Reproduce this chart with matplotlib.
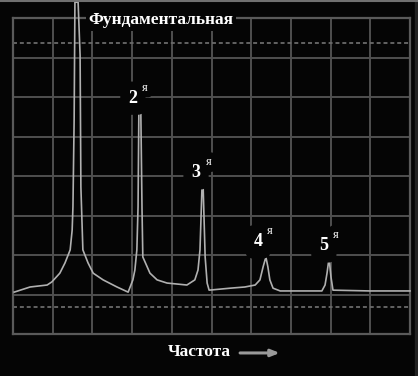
import matplotlib
matplotlib.use('Agg')
from matplotlib import pyplot as plt
from matplotlib.lines import Line2D
from matplotlib.patches import Rectangle

# спектр: частота (деления сетки) и амплитуда (деления сетки)
freq = [0.03, 0.43, 0.86, 0.98, 1.18, 1.31, 1.44, 1.49, 1.51, 1.54, 1.56, 1.61,
        1.64, 1.69, 1.71, 1.76, 1.89, 2.02, 2.27, 2.62, 2.90,
        3.02, 3.07, 3.12, 3.15, 3.17, 3.22, 3.25, 3.27, 3.38, 3.45, 3.63, 3.88,
        4.38, 4.58, 4.66, 4.71, 4.76, 4.79, 4.84, 4.89, 4.94, 5.47,
        5.84, 6.10, 6.22, 6.30, 6.37, 6.42, 6.47, 6.55, 6.73,
        7.78, 7.86, 7.91, 7.96, 8.01, 8.06, 8.99, 10.0]
ampl = [1.06, 1.19, 1.24, 1.32, 1.54, 1.80, 2.13, 2.63, 3.22, 5.42, 8.40, 8.40,
        8.40, 7.06, 3.72, 2.13, 1.80, 1.54, 1.37, 1.19, 1.06,
        1.37, 1.62, 2.13, 3.22, 5.59, 5.59, 3.14, 1.95, 1.70, 1.54, 1.37, 1.29,
        1.24, 1.37, 1.62, 2.13, 3.70, 3.70, 1.95, 1.29, 1.11, 1.16,
        1.19, 1.24, 1.37, 1.70, 1.95, 1.70, 1.37, 1.16, 1.09,
        1.09, 1.24, 1.54, 1.92, 1.44, 1.11, 1.09, 1.09]

# подписи гармоник
harm_text = ['2', '3', '4', '5']
harm_x = [3.02, 4.61, 6.17, 7.83]
harm_y = [5.97, 4.08, 2.33, 2.23]
dashed_levels = [7.37, 0.68]

bg = '#050505'
fig = plt.figure(figsize=(4.18, 3.76), dpi=100, facecolor=bg)
ax = fig.add_axes([13 / 418, 42 / 376, 397 / 418, 316 / 376])
ax.set_facecolor(bg)
ax.set_xlim(0, 10)
ax.set_ylim(0, 8)
ax.set_xticks(range(11))
ax.set_yticks(range(9))
ax.tick_params(length=0, labelbottom=False, labelleft=False)
ax.grid(True, color='#505050', linewidth=1.4)
for s in ax.spines.values():
    s.set_color('#5a5a5a')
    s.set_linewidth(1.6)

for lev in dashed_levels:
    ax.axhline(lev, color='#6a6a6a', linewidth=1.3, linestyle=(0, (2.2, 1.6)))

ax.plot(freq, ampl, color='#b0b0b0', linewidth=1.2, clip_on=False, zorder=3)

font = 'Liberation Serif'
ax.text(3.73, 7.95, 'Фундаментальная', color='white', fontsize=12.5,
        fontweight='bold', family=font, ha='center', va='center',
        bbox=dict(facecolor=bg, edgecolor='none', pad=2), zorder=5)

for t, hx, hy in zip(harm_text, harm_x, harm_y):
    ax.text(hx, hy, t, color='white', fontsize=13, fontweight='bold',
            family=font, ha='center', va='center', zorder=5,
            bbox=dict(boxstyle='round,pad=0.45', facecolor=bg, edgecolor='none'))
    ax.text(hx + 0.31, hy + 0.27, 'я', color='white', fontsize=9,
            family=font, ha='center', va='center', zorder=6,
            bbox=dict(boxstyle='round,pad=0.3', facecolor=bg, edgecolor='none'))

ax.text(4.69, -0.46, 'Частота', color='white', fontsize=12.5,
        fontweight='bold', family=font, ha='center', va='center', clip_on=False)
ax.annotate('', xy=(6.72, -0.48), xytext=(5.72, -0.48),
            annotation_clip=False,
            arrowprops=dict(arrowstyle='-|>,head_length=0.5,head_width=0.2',
                            color='#9a9a9a', lw=2.2, shrinkA=0, shrinkB=0))

# рамка снимка
fig.add_artist(Line2D([0, 1], [0.997, 0.997], color='#707070', linewidth=1.5,
                      transform=fig.transFigure))
fig.add_artist(Rectangle((415 / 418, 0), 3 / 418, 1, color='#222222',
                         transform=fig.transFigure))

fig.savefig('out.png', dpi=100, facecolor=bg)
